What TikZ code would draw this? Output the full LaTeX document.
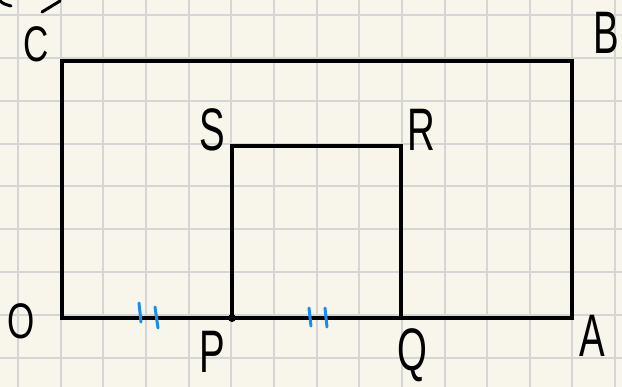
\documentclass[tikz,border=0pt]{standalone}
\usepackage{fontspec}
\setmainfont{Liberation Sans}
\definecolor{paper}{HTML}{F8F6EA}
\definecolor{gridc}{HTML}{D5D5D3}
\definecolor{tickblue}{HTML}{1A8CF0}
\begin{document}
\begin{tikzpicture}[x=1pt,y=-1pt,
  edge/.style={line width=3.2pt,line cap=round,line join=miter},
  lbl/.style={font=\fontsize{60}{60}\selectfont,inner sep=0pt,xscale=0.64},
  lbls/.style={font=\fontsize{50}{50}\selectfont,inner sep=0pt,xscale=0.7},
  tk/.style={tickblue,line width=3pt,line cap=round}]
\fill[paper] (0,0) rectangle (622,387);
\useasboundingbox (0,0) rectangle (622,387);
\foreach \i in {0,...,14} \draw[gridc,line width=2pt] ({18+42.65*\i},0) -- ({18+42.65*\i},387);
\foreach \j in {0,...,8} \draw[gridc,line width=2pt] (0,{15+42.86*\j}) -- (622,{15+42.86*\j});
% points
\coordinate (O) at (62,318);
\coordinate (A) at (572,318);
\coordinate (B) at (572,61);
\coordinate (C) at (62,61);
\coordinate (P) at (232,318);
\coordinate (Q) at (401,318);
\coordinate (R) at (401,146);
\coordinate (S) at (232,146);
\draw[edge] (O) -- (A) -- (B) -- (C) -- cycle;
\draw[edge] (P) -- (S) -- (R) -- (Q);
\fill (P) circle (4);
% ticks
\draw[tk] (139,303) -- (141,322);
\draw[tk] (155,307) -- (158,328);
\draw[tk] (309,308) -- (311,326);
\draw[tk] (325,308) -- (327,327);
% partial strokes at top-left
\draw[line width=3pt,line cap=round] (0,1) .. controls (4,4) .. (11,6);
\draw[line width=3pt,line cap=round] (42,12) -- (60,1);
% labels
\node[lbls] (lC) at (36,44) {C};
\node[lbl] (lB) at (606,33) {B};
\node[lbl] (lS) at (212,130) {S};
\node[lbl] (lR) at (421,130) {R};
\node[lbls] (lO) at (21,321) {O};
\node[lbl] (lP) at (212,352) {P};
\node[lbl] (lQ) at (412,355) {Q};
\node[lbl] (lA) at (592,336) {A};
\end{tikzpicture}
\end{document}
